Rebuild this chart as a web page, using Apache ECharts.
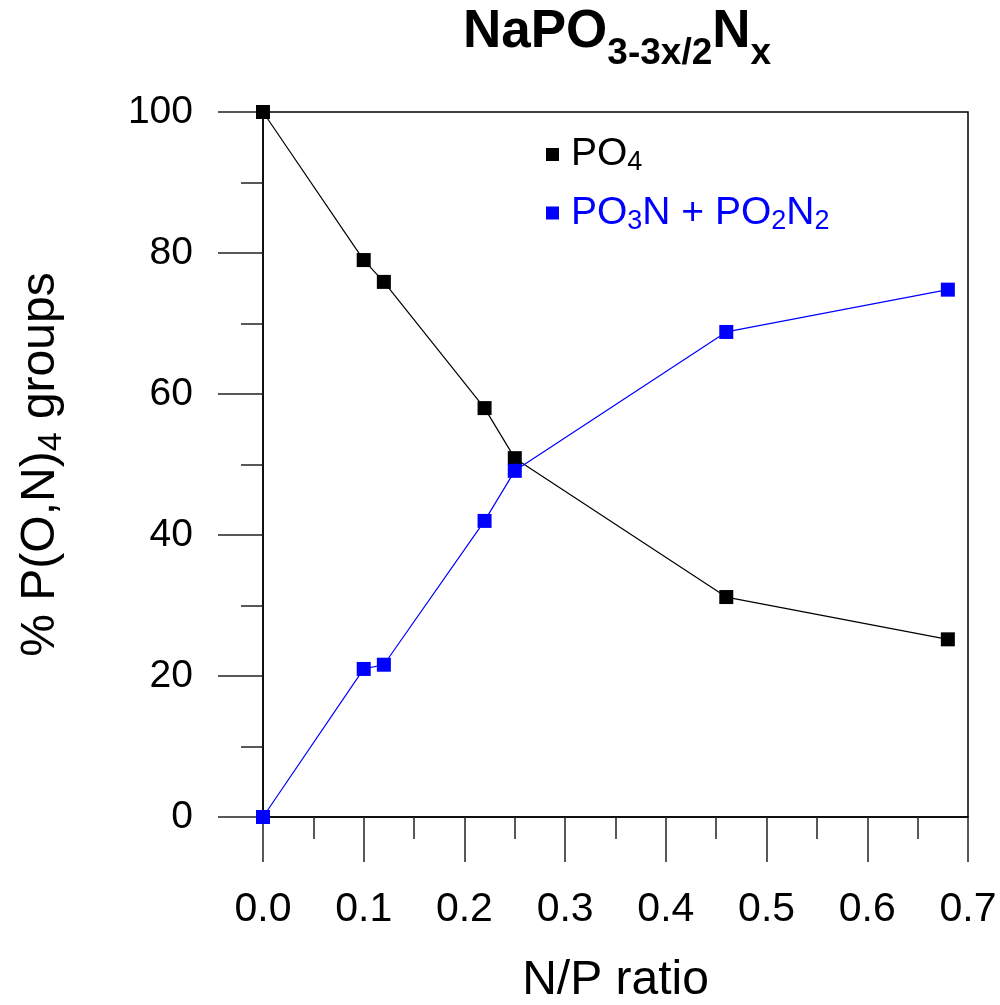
<!DOCTYPE html>
<html>
<head>
<meta charset="utf-8">
<script src="https://cdn.jsdelivr.net/npm/echarts@6/dist/echarts.min.js"></script>
<style>
  html, body { margin: 0; padding: 0; background: #fff; }
  #chart { width: 1000px; height: 1005px; }
</style>
</head>
<body>
<div id="chart"></div>
<script>
// N/P ratio values
const npRatio = [0, 0.1, 0.12, 0.22, 0.25, 0.46, 0.68];
// % of PO4 groups
const po4 = [100, 79.0, 75.9, 58.0, 50.9, 31.2, 25.2];
// % of PO3N + PO2N2 groups
const po3nPo2n2 = [0, 21.0, 21.6, 42.0, 49.1, 68.8, 74.8];

const FONT = "Liberation Sans, Arial, sans-serif";

// rich styles for the legend labels (subscripts)
const legendRich = {
  f: { fontFamily: FONT, fontSize: 39, lineHeight: 44, padding: [0, 0, 0, 7] },
  m: { fontFamily: FONT, fontSize: 39, lineHeight: 44 },
  s: { fontFamily: FONT, fontSize: 27, lineHeight: 14, verticalAlign: "bottom" },
};

const chart = echarts.init(document.getElementById("chart"));

const option = {
  animation: false,
  textStyle: { fontFamily: FONT },
  title: {
    text: "{m|NaPO}{s|3-3x/2}{m|N}{s|x}",
    left: 463,
    top: 6,
    padding: 0,
    textStyle: {
      rich: {
        m: { fontFamily: FONT, fontSize: 53, fontWeight: "bold", lineHeight: 62, verticalAlign: "top", color: "#000" },
        s: { fontFamily: FONT, fontSize: 37, fontWeight: "bold", verticalAlign: "top", padding: [29, 0, 0, 0], color: "#000" },
      },
    },
  },
  legend: {
    orient: "vertical",
    left: 541,
    top: 130,
    itemWidth: 13,
    itemHeight: 13,
    itemGap: 17,
    selectedMode: false,
    data: [
      { name: "PO4", icon: "rect", textStyle: { color: "#000", rich: legendRich } },
      { name: "PO3N + PO2N2", icon: "rect", textStyle: { color: "#0000ff", rich: legendRich } },
    ],
    formatter(name) {
      if (name === "PO4") return "{f|PO}{s|4}";
      return "{f|PO}{s|3}{m|N + PO}{s|2}{m|N}{s|2}";
    },
    textStyle: { fontFamily: FONT, rich: legendRich },
  },
  grid: {
    left: 263,
    right: 32,
    top: 112,
    bottom: 188,
    outerBoundsMode: "none",
    show: true,
    borderColor: "#000",
    borderWidth: 1.5,
  },
  xAxis: {
    type: "value",
    min: 0,
    max: 0.7,
    interval: 0.1,
    name: "N/P ratio",
    nameLocation: "middle",
    nameGap: 140,
    nameTextStyle: { fontFamily: FONT, fontSize: 48, color: "#000" },
    axisLine: { show: true, onZero: false, lineStyle: { color: "#000", width: 1.5 } },
    axisTick: { show: true, inside: false, length: 45, lineStyle: { color: "#222", width: 1.5 } },
    minorTick: { show: true, splitNumber: 2, length: 22, lineStyle: { color: "#222", width: 1.5 } },
    axisLabel: {
      margin: 72,
      fontFamily: FONT,
      fontSize: 41,
      color: "#000",
      formatter: (v) => v.toFixed(1),
    },
    splitLine: { show: false },
  },
  yAxis: {
    type: "value",
    min: 0,
    max: 100,
    interval: 20,
    name: "{m|% P(O,N)}{s|4}{m| groups}",
    nameLocation: "middle",
    nameGap: 194,
    nameTextStyle: {
      color: "#000",
      rich: {
        m: { fontFamily: FONT, fontSize: 48, lineHeight: 56, color: "#000" },
        s: { fontFamily: FONT, fontSize: 34, lineHeight: 22, verticalAlign: "bottom", color: "#000" },
      },
    },
    axisLine: { show: true, onZero: false, lineStyle: { color: "#000", width: 1.5 } },
    axisTick: { show: true, inside: false, length: 45, lineStyle: { color: "#222", width: 1.5 } },
    minorTick: { show: true, splitNumber: 2, length: 22, lineStyle: { color: "#222", width: 1.5 } },
    axisLabel: { margin: 70, fontFamily: FONT, fontSize: 39, color: "#000" },
    splitLine: { show: false },
  },
  series: [
    {
      name: "PO4",
      type: "line",
      data: npRatio.map((x, i) => [x, po4[i]]),
      symbol: "rect",
      symbolSize: 14,
      itemStyle: { color: "#000" },
      lineStyle: { color: "#000", width: 1.2 },
      z: 3,
    },
    {
      name: "PO3N + PO2N2",
      type: "line",
      data: npRatio.map((x, i) => [x, po3nPo2n2[i]]),
      symbol: "rect",
      symbolSize: 14,
      itemStyle: { color: "#0000ff" },
      lineStyle: { color: "#0000ff", width: 1.2 },
      z: 4,
    },
  ],
};

chart.setOption(option);
</script>
</body>
</html>
